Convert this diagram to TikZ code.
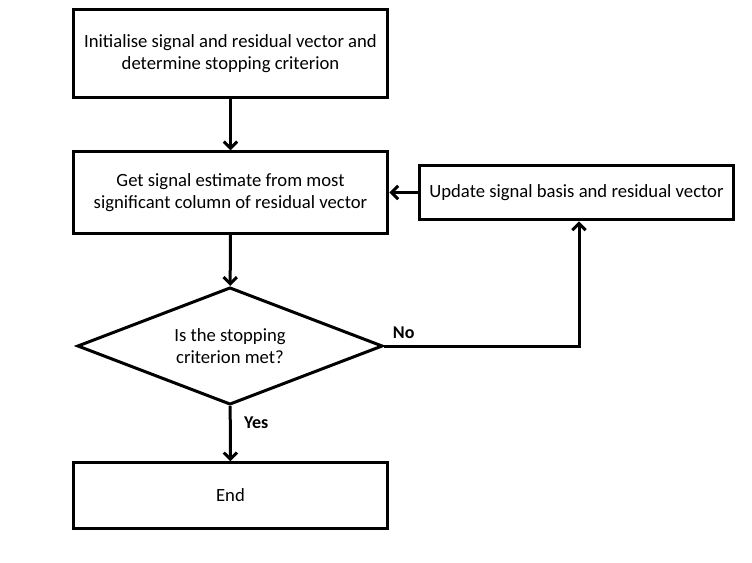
\documentclass[tikz,border=0pt]{standalone}
\usepackage{fontspec}
\setmainfont{Carlito}
\usetikzlibrary{shapes.geometric,arrows.meta}

\begin{document}
\begin{tikzpicture}[x=0.75pt,y=-0.75pt,
    box/.style={draw,line width=2.25pt,minimum width=236pt,align=center,
        font=\fontsize{14}{16.5}\selectfont},
    decision/.style={draw,diamond,line width=2.25pt,aspect=2.6,inner sep=0pt,
        minimum width=229pt,minimum height=88pt,align=center,
        font=\fontsize{14}{16.5}\selectfont},
    flow/.style={line width=2.25pt,-{Straight Barb[length=5pt,width=10pt]}},
    answer/.style={font=\fontsize{13.5}{15}\selectfont\bfseries}]
                \useasboundingbox (0,0) rectangle (752,563);

                \node[box,minimum height=66pt] (init) at (230.5,54)
                    {Initialise signal and residual vector and\\determine stopping criterion};
                \node[box,minimum height=61pt] (est) at (230.5,192.5)
                    {Get signal estimate from most\\significant column of residual vector};
                \node[box,minimum height=41pt] (upd) at (576.5,192.5)
                    {Update signal basis and residual vector};
                \node[decision] (stop) at (230,346) {Is the stopping\\criterion met?};
                \node[box,minimum height=49pt] (end) at (230.5,495.5) {End};
                \coordinate (turn) at (579,346);

                \draw[flow] (init) -- (est);
                \draw[flow] (est) -- (stop);
                \draw[flow] (stop) -- node[answer,pos=0.3,right=6pt] (yes) {Yes} (end);
                \draw[flow] (stop.east) -- node[answer,pos=0.1,above=1pt] (no) {No} (turn)
                    -- (turn |- upd.south);
                \draw[flow] (upd) -- (est);
            \end{tikzpicture}
\end{document}
